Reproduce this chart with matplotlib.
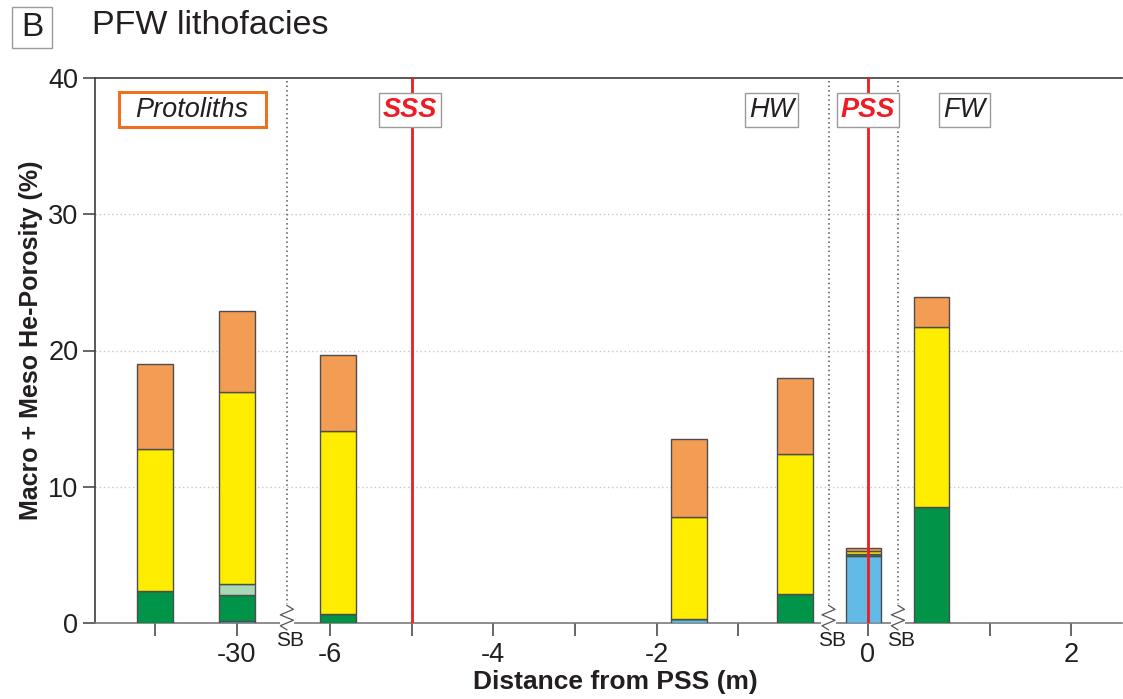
import matplotlib
matplotlib.use("Agg")
import matplotlib.pyplot as plt
from matplotlib.patches import Rectangle
import numpy as np

plt.rcParams['font.family'] = ['Liberation Sans', 'DejaVu Sans']

# ---- data ----
# broken (non-linear) distance axis: bars drawn at axis positions, labelled by ticks
bar_pos = [-8.147, -7.143, -5.906, -1.602, -0.304, 0.535, 1.367]
blue = [0.0, 0.15, 0.0, 0.27, 0.0, 4.95, 0.0]
green = [2.37, 1.91, 0.64, 0.0, 2.10, 0.10, 8.49]
light_green = [0.0, 0.80, 0.0, 0.0, 0.0, 0.0, 0.0]
yellow = [10.40, 14.07, 13.48, 7.49, 10.30, 0.20, 13.21]
orange = [6.23, 5.97, 5.55, 5.72, 5.60, 0.25, 2.20]

tick_pos = [-8.147, -7.143, -6.004, -5.0, -4.008, -3.004, -2.0, -1.008, 0.583, 2.077, 3.081]
tick_labels = ['', '-30', '-6', '', '-4', '', '-2', '', '0', '', '2']

sss_pos = -5.0
pss_pos = 0.583
sb_pos = [-6.53, 0.105, 0.955]

zone_labels = ['Protoliths', 'SSS', 'HW', 'PSS', 'FW']
zone_pos = [-7.69, -5.02, -0.595, 0.588, 1.77]

series = [blue, green, light_green, yellow, orange]
colors = ['#62bae6', '#009448', '#a9d8b4', '#ffed00', '#f39c53']

# ---- figure ----
fig = plt.figure(figsize=(11.23, 6.99), dpi=100)
ax = fig.add_axes([95/1123, 1-623/699, (1122-95)/1123, (623-78)/699])

bottom = np.zeros(len(bar_pos))
for vals, col in zip(series, colors):
    v = np.array(vals)
    ax.bar(bar_pos, v, width=0.435, bottom=bottom, color=col,
           edgecolor='#4d4d4d', linewidth=1.0, zorder=3)
    bottom += v

ax.set_xlim(-8.88, 3.70)
ax.set_ylim(0, 40)

ax.set_yticks([0, 10, 20, 30, 40])
ax.set_xticks(tick_pos)
ax.set_xticklabels(tick_labels)
ax.tick_params(axis='both', labelsize=19.5, colors='#4d4d4d', labelcolor='#231f20',
               length=9, width=1.2, direction='out')
ax.tick_params(axis='x', pad=5)
ax.tick_params(axis='y', pad=3)

for y in (10, 20, 30):
    ax.axhline(y, color='#c8c8c8', linestyle=(0, (1, 2)), linewidth=1.0, zorder=1)

for s in ('left', 'bottom', 'top'):
    ax.spines[s].set_color('#3c3c3c')
    ax.spines[s].set_linewidth(1.2)
ax.spines['bottom'].set_color('#7a7a7a')
ax.spines['right'].set_visible(False)

ax.set_ylabel('Macro + Meso He-Porosity (%)', fontsize=18, fontweight='bold',
              color='#231f20')
ax.yaxis.set_label_coords(-0.051, 0.519)
ax.set_xlabel('Distance from PSS (m)', fontsize=19, fontweight='bold',
              color='#231f20')
ax.xaxis.set_label_coords(0.507, -0.087)

# red lines
for xp in (sss_pos, pss_pos):
    ax.axvline(xp, color='#ee1c24', linewidth=2.0, zorder=4)

# SB dotted lines with zigzag breaks
for xp in sb_pos:
    ax.plot([xp, xp], [1.3, 40], color='#555555', linestyle=(0, (1, 2)),
            linewidth=1.1, zorder=2)
    ax.add_patch(Rectangle((xp - 0.09, -0.4), 0.18, 1.8, facecolor='white',
                           edgecolor='none', zorder=5, clip_on=False))
    zx = [xp + 0.0, xp + 0.08, xp - 0.08, xp + 0.08, xp - 0.08, xp + 0.0]
    zy = [1.3, 1.0, 0.6, 0.2, -0.2, -0.5]
    ax.plot(zx, zy, color='#555555', linewidth=0.9, zorder=6, clip_on=False)
    ax.text(xp + 0.04, -0.6, 'SB', fontsize=15, color='#231f20',
            ha='center', va='top', zorder=6)

# zone labels
box_y = 37.65
for lab, xp in zip(zone_labels, zone_pos):
    if lab == 'Protoliths':
        ax.text(xp, box_y, lab, fontsize=19.5, style='italic', color='#231f20',
                ha='center', va='center', zorder=8)
        ax.add_patch(Rectangle((xp - 0.90, box_y - 1.25), 1.80, 2.55,
                               facecolor='white', edgecolor='#f07021',
                               linewidth=2.2, zorder=7))
    elif lab in ('SSS', 'PSS'):
        ax.text(xp, box_y, lab, fontsize=19.5, style='italic', fontweight='bold',
                color='#ee1c24', ha='center', va='center', zorder=7,
                bbox=dict(boxstyle='square,pad=0.15', facecolor='white',
                          edgecolor='#9a9a9a', linewidth=1.0))
    else:
        ax.text(xp, box_y, lab, fontsize=19.5, style='italic', color='#231f20',
                ha='center', va='center', zorder=7,
                bbox=dict(boxstyle='square,pad=0.15', facecolor='white',
                          edgecolor='#9a9a9a', linewidth=1.0))

# panel letter and title
fig.patches.append(Rectangle((12/1123, 1-48/699), 40/1123, 41/699,
                             transform=fig.transFigure, facecolor='white',
                             edgecolor='#9a9a9a', linewidth=1.0))
fig.text(32/1123, 1-28/699, 'B', fontsize=24, color='#231f20', ha='center',
         va='center')
fig.text(92/1123, 1-26/699, 'PFW lithofacies', fontsize=24.5, color='#231f20',
         ha='left', va='center')

fig.savefig('out.png', dpi=100)
